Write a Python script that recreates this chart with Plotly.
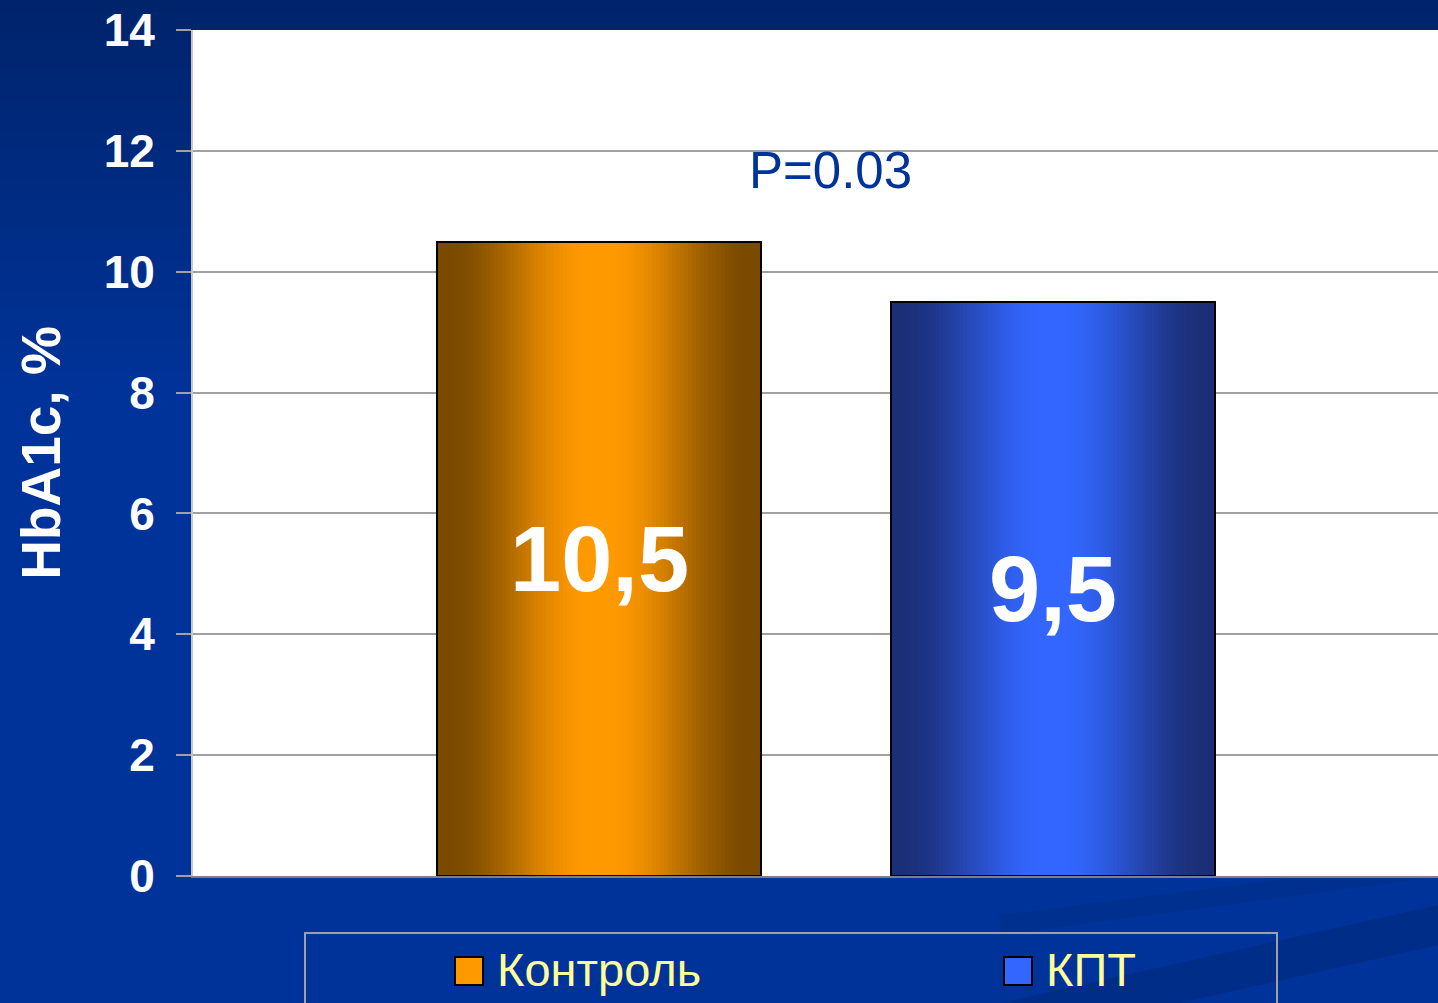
import plotly.graph_objects as go

# ---- data ----
categories = ["Контроль", "КПТ"]
values = [10.5, 9.5]
value_labels = ["10,5", "9,5"]
p_text = "P=0.03"
y_title = "HbA1c, %"
y_ticks = [0, 2, 4, 6, 8, 10, 12, 14]

# ---- style ----
W, H = 1438, 1003
ML, MR, MT, MB = 193, 0, 30, 127
PW, PH = W - ML - MR, H - MT - MB
BG = "#00339A"
FONT = "Liberation Sans, Arial, sans-serif"

def px_x(px):
    return (px - ML) / PW

def px_y(py):
    return (H - MB - py) / PH

def hex_rgb(h):
    h = h.lstrip("#")
    return tuple(int(h[i:i + 2], 16) for i in (0, 2, 4))

def lerp(c1, c2, t):
    a, b = hex_rgb(c1), hex_rgb(c2)
    return "rgb(%d,%d,%d)" % tuple(round(a[i] + (b[i] - a[i]) * t) for i in range(3))

def smooth(e0, e1, t):
    t = max(0.0, min(1.0, (t - e0) / (e1 - e0)))
    return t * t * (3 - 2 * t)

centers = ["#FF9900", "#3366FF"]
edges = ["#7A4A00", "#1B2F78"]

BAR_W = 0.7145
N = 80
fig = go.Figure()
for k in range(N):
    pos = (k + 0.5) / N  # 0..1 across bar
    t = abs(pos - 0.5) * 2
    f = smooth(0.05, 0.95, t)
    cols = [lerp(centers[i], edges[i], f) for i in range(len(categories))]
    fig.add_trace(go.Bar(
        x=categories, y=values,
        width=BAR_W / N * 1.05, offset=-BAR_W / 2 + k * BAR_W / N,
        marker=dict(color=cols, line=dict(width=0)),
        showlegend=False, hoverinfo="skip",
    ))
# outline
fig.add_trace(go.Bar(
    x=categories, y=values, width=BAR_W, offset=-BAR_W / 2,
    marker=dict(color="rgba(0,0,0,0)", line=dict(color="#000000", width=2)),
    showlegend=False, hoverinfo="skip",
))

# value labels in middle of bars
for c, v, lab in zip(categories, values, value_labels):
    fig.add_annotation(x=c, y=v / 2, text=lab, showarrow=False,
                       font=dict(family=FONT, size=92, color="white", weight=700),
                       xanchor="center", yanchor="middle")

fig.add_annotation(x=0.51, y=11.68, text=p_text, showarrow=False,
                   font=dict(family=FONT, size=51, color="#003399"),
                   xanchor="center", yanchor="middle")

shapes = []
# background vertical gradient (top darker)
top_c, bot_c = "#00246C", BG
step = 10
for py in range(0, 420, step):
    t = min(1.0, py / 400)
    shapes.append(dict(type="rect", xref="paper", yref="paper",
                       x0=px_x(0), x1=px_x(W), y0=px_y(py + step + 1), y1=px_y(py),
                       fillcolor=lerp(top_c, bot_c, t), line=dict(width=0), layer="below"))
# diagonal faint bands
shapes.append(dict(type="path", xref="paper", yref="paper", layer="below",
                   path="M %f %f L %f %f L %f %f L %f %f Z" % (
                       px_x(1000), px_y(1003), px_x(1438), px_y(905),
                       px_x(1438), px_y(945), px_x(1180), px_y(1003)),
                   fillcolor="#002D88", line=dict(width=0)))
shapes.append(dict(type="path", xref="paper", yref="paper", layer="below",
                   path="M %f %f L %f %f L %f %f L %f %f Z" % (
                       px_x(1000), px_y(915), px_x(1300), px_y(877),
                       px_x(1438), px_y(877), px_x(1000), px_y(935)),
                   fillcolor="#00308F", line=dict(width=0)))
# white plot area
shapes.append(dict(type="rect", xref="paper", yref="paper", x0=0, x1=1, y0=0, y1=1,
                   fillcolor="white", line=dict(width=0), layer="below"))
# legend box
shapes.append(dict(type="rect", xref="paper", yref="paper",
                   x0=px_x(305), x1=px_x(1277), y0=px_y(1010), y1=px_y(933),
                   fillcolor="rgba(0,0,0,0)", line=dict(color="#A0A0A0", width=2)))
# legend swatches + text
leg_x = [455, 1004]
for i, c in enumerate(categories):
    x0 = leg_x[i]
    shapes.append(dict(type="rect", xref="paper", yref="paper",
                       x0=px_x(x0), x1=px_x(x0 + 28), y0=px_y(985), y1=px_y(957),
                       fillcolor=centers[i], line=dict(color="#000000", width=2)))
    fig.add_annotation(xref="paper", yref="paper", x=px_x(x0 + 40), y=px_y(969),
                       text=c, showarrow=False, xanchor="left", yanchor="middle",
                       font=dict(family=FONT, size=47, color="#FFFF99"))

fig.update_layout(
    width=W, height=H,
    margin=dict(l=ML, r=MR, t=MT, b=MB),
    paper_bgcolor=BG, plot_bgcolor="white",
    barmode="overlay", bargap=0,
    showlegend=False,
    shapes=shapes,
    xaxis=dict(type="category", range=[-0.8953, 1.850], showticklabels=False,
               ticks="", showgrid=False, zeroline=False,
               showline=True, linecolor="#808080", linewidth=2),
    yaxis=dict(range=[0, 14], tickvals=y_ticks, ticks="outside", ticklen=15,
               tickcolor="#A0A0A0", tickwidth=2, showgrid=True,
               gridcolor="#A0A0A0", gridwidth=2, zeroline=False,
               showline=True, linecolor="#C8C8C8", linewidth=2,
               tickfont=dict(family=FONT, size=46, color="white", weight=700),
               ticklabelstandoff=12,
               title=dict(text=y_title, standoff=25,
                          font=dict(family=FONT, size=55, color="white", weight=700)),
               automargin=False),
)

fig.write_html("out.html", config={"displayModeBar": False},
               post_script="document.body.style.margin='0';document.body.style.overflow='hidden';")
